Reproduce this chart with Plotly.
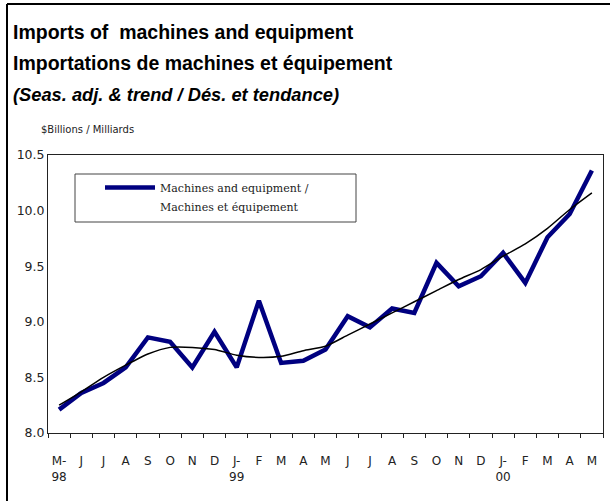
import plotly.graph_objects as go

months = ["M-", "J", "J", "A", "S", "O", "N", "D", "J-", "F", "M", "A", "M",
          "J", "J", "A", "S", "O", "N", "D", "J-", "F", "M", "A", "M"]
years = ["98", "", "", "", "", "", "", "", "99", "", "", "", "",
         "", "", "", "", "", "", "", "00", "", "", "", ""]
machines = [8.21, 8.36, 8.45, 8.59, 8.86, 8.82, 8.59, 8.91, 8.59, 9.19, 8.63, 8.65, 8.75,
            9.05, 8.95, 9.12, 9.08, 9.53, 9.32, 9.41, 9.62, 9.35, 9.76, 9.97, 10.36]
trend = [8.25, 8.37, 8.50, 8.61, 8.71, 8.77, 8.77, 8.75, 8.70, 8.68, 8.69, 8.74, 8.78,
         8.88, 8.98, 9.08, 9.18, 9.28, 9.38, 9.47, 9.59, 9.70, 9.84, 10.01, 10.16]
yticks = [8.0, 8.5, 9.0, 9.5, 10.0, 10.5]
legend_lines = ["Machines and equipment /", "Machines et équipement"]

W, H = 610, 501
L, R, T, B = 48, 7, 155, 68
PW, PH = W - L - R, H - T - B

def px(x):
    return (x - L) / PW

def py(y):
    return (H - B - y) / PH

x = list(range(len(months)))
ticktext = [m if not yv else m + "<br>" + yv for m, yv in zip(months, years)]

fig = go.Figure()
fig.add_trace(go.Scatter(x=x, y=machines, mode="lines",
                         line=dict(color="#000080", width=4.5),
                         name=legend_lines[0], showlegend=True))
fig.add_trace(go.Scatter(x=[None], y=[None], mode="lines",
                         line=dict(color="rgba(0,0,0,0)", width=0),
                         name=legend_lines[1], showlegend=True, hoverinfo="skip"))
fig.add_trace(go.Scatter(x=x, y=trend, mode="lines",
                         line=dict(color="black", width=1.5, shape="spline", smoothing=0.6),
                         name="Trend", showlegend=False))

fig.update_layout(
    width=W, height=H,
    margin=dict(l=L, r=R, t=T, b=B),
    paper_bgcolor="white", plot_bgcolor="white",
    font=dict(family="DejaVu Sans, Liberation Sans, sans-serif", color="#222"),
    showlegend=True,
    legend=dict(x=px(100), y=py(173), xanchor="left", yanchor="top",
                bgcolor="rgba(0,0,0,0)", borderwidth=0, valign="middle",
                itemwidth=50, tracegroupgap=0,
                font=dict(family="DejaVu Serif, serif", size=11, color="#222")),
    xaxis=dict(range=[-0.5, len(months) - 0.5], showgrid=False, zeroline=False,
               tickmode="array", tickvals=x, ticktext=ticktext, ticks="",
               tickfont=dict(size=12, color="#222"),
               showline=True, linecolor="#222", linewidth=1, mirror=True,
               ticklabelstandoff=17,
               minor=dict(tick0=-0.5, dtick=1, ticks="outside", ticklen=4,
                          tickcolor="#222", showgrid=False)),
    yaxis=dict(range=[8.0, 10.5], showgrid=False, zeroline=False,
               tickmode="array", tickvals=yticks,
               ticktext=[f"{v:.1f}" for v in yticks], ticks="",
               tickfont=dict(size=12.5, color="#222"),
               showline=True, linecolor="#222", linewidth=1, mirror=True),
    shapes=[
        dict(type="rect", xref="paper", yref="paper",
             x0=px(75), x1=px(356), y0=py(222), y1=py(174),
             line=dict(color="#444", width=1), fillcolor="rgba(0,0,0,0)"),
        dict(type="line", xref="paper", yref="paper",
             x0=px(7), x1=px(611), y0=py(4), y1=py(4),
             line=dict(color="black", width=2)),
        dict(type="line", xref="paper", yref="paper",
             x0=px(7), x1=px(7), y0=py(4), y1=py(502),
             line=dict(color="black", width=2)),
    ],
    annotations=[
        dict(text="<b>Imports of  machines and equipment</b>", xref="paper", yref="paper",
             x=px(11), y=py(32), xanchor="left", yanchor="middle", showarrow=False,
             font=dict(family="Liberation Sans, Arial, sans-serif", size=19.5, color="black")),
        dict(text="<b>Importations de machines et équipement</b>", xref="paper", yref="paper",
             x=px(11), y=py(63), xanchor="left", yanchor="middle", showarrow=False,
             font=dict(family="Liberation Sans, Arial, sans-serif", size=19.5, color="black")),
        dict(text="<b><i>(Seas. adj. & trend / Dés. et tendance)</i></b>", xref="paper", yref="paper",
             x=px(11), y=py(94), xanchor="left", yanchor="middle", showarrow=False,
             font=dict(family="Liberation Sans, Arial, sans-serif", size=18.3, color="black")),
        dict(text="$Billions / Milliards", xref="paper", yref="paper",
             x=px(39), y=py(130), xanchor="left", yanchor="middle", showarrow=False,
             font=dict(size=10, color="#222")),
    ],
)

fig.write_html("out.html", config={"displayModeBar": False},
               post_script="document.body.style.margin='0px';")
